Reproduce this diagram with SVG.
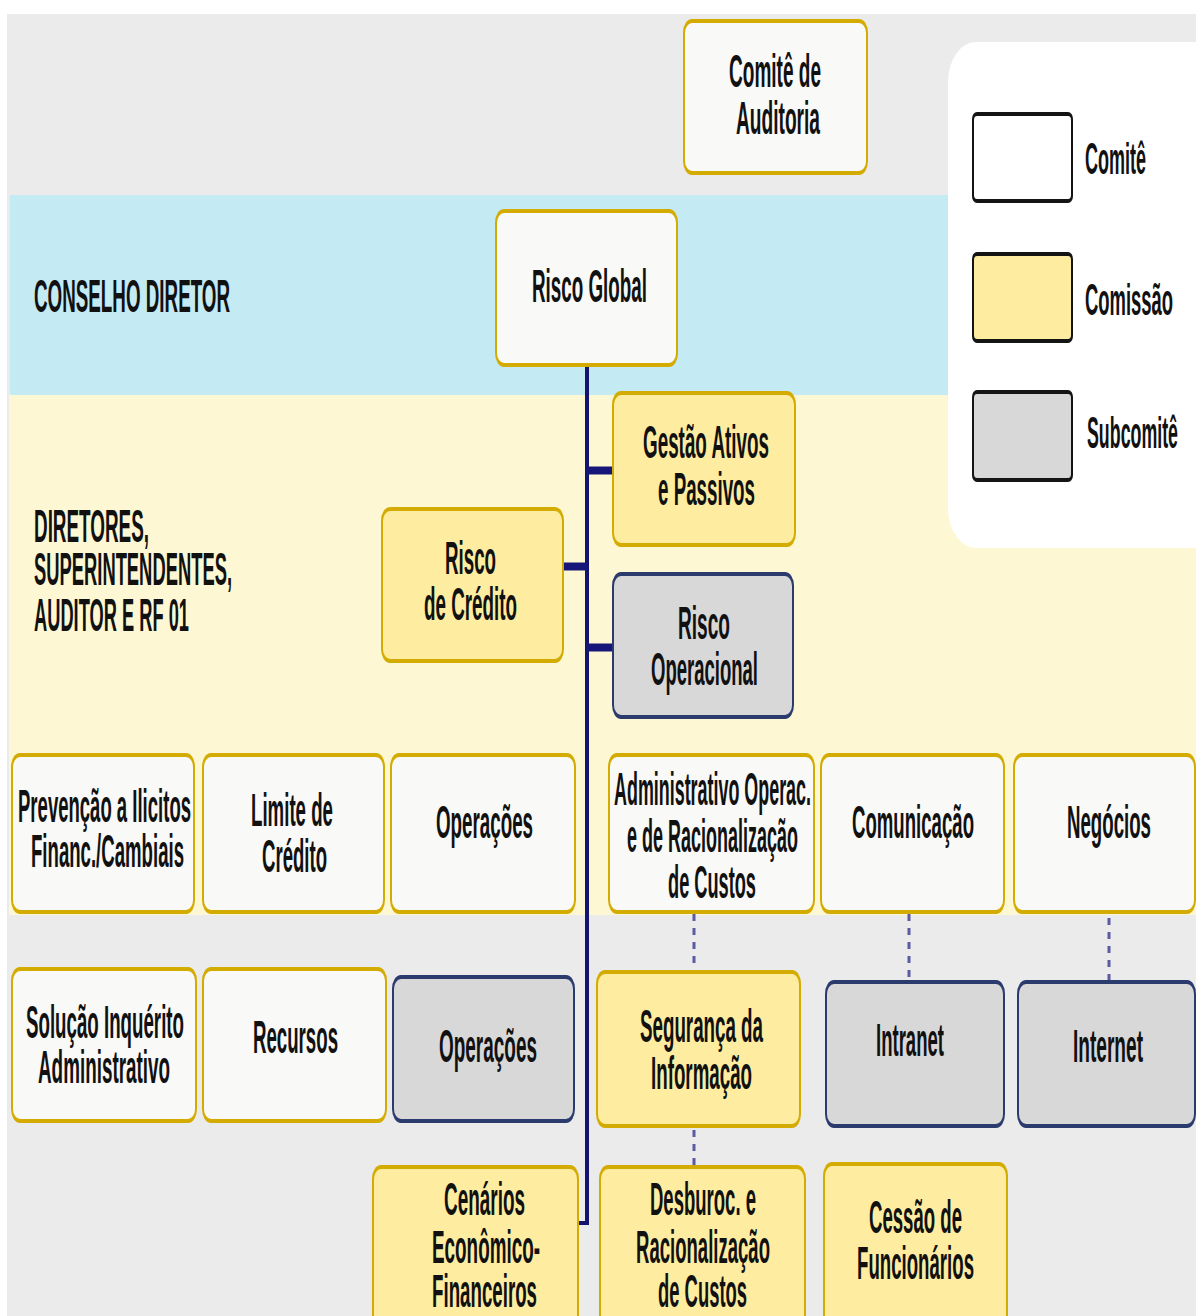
<svg xmlns="http://www.w3.org/2000/svg" width="1196" height="1316" viewBox="0 0 1196 1316">
  <style>
    .bd-gold { fill: #d4ab00; }
    .bd-navy { fill: #2c3b6e; }
    .bd-black { fill: #141414; }
    .fl-white { fill: #f9f9f7; }
    .fl-yellow { fill: #feeda0; }
    .fl-grey { fill: #d9d8d9; }
    text { font-family: "Liberation Sans", Arial, sans-serif; font-size: 46px; font-weight: bold; fill: #111; }
    .node text { text-anchor: middle; }
    .legend text { font-size: 44px; }
    .trunk { fill: none; stroke: #14146e; stroke-width: 4; }
    .branch { stroke: #16167a; stroke-width: 8; }
    .dotted { stroke: #5b5ba3; stroke-width: 3; stroke-dasharray: 7 7; }
  </style>

  <!-- background bands -->
  <rect x="0" y="0" width="1196" height="1316" fill="#ffffff"/>
  <rect x="7" y="14" width="1189" height="1302" fill="#ebebeb"/>
  <rect x="10" y="195" width="938" height="200" fill="#c4eaf4"/>
  <rect x="9" y="395" width="1187" height="520" fill="#fdf8d3"/>

  <!-- legend panel; all labels use a condensed face: matrix(0.42 0 0 1 x 0) -->
  <g id="legend" class="legend">
    <rect x="948" y="42" width="280" height="506" rx="28" ry="40" fill="#ffffff"/>
    <rect class="bd-black" x="972" y="112" width="101" height="91" rx="5" ry="7"/>
    <rect x="974" y="116" width="97" height="83" rx="3" ry="4" fill="#ffffff"/>
    <text transform="matrix(0.42 0 0 1 1085 0)" y="174" textLength="145.2" lengthAdjust="spacingAndGlyphs">Comitê</text>
    <rect class="bd-black" x="972" y="252" width="101" height="91" rx="5" ry="7"/>
    <rect class="fl-yellow" x="974" y="256" width="97" height="83" rx="3" ry="4"/>
    <text transform="matrix(0.42 0 0 1 1085 0)" y="315" textLength="209.5" lengthAdjust="spacingAndGlyphs">Comissão</text>
    <rect class="bd-black" x="972" y="390" width="101" height="92" rx="5" ry="7"/>
    <rect class="fl-grey" x="974" y="394" width="97" height="84" rx="3" ry="4"/>
    <text transform="matrix(0.42 0 0 1 1087 0)" y="448" textLength="216.7" lengthAdjust="spacingAndGlyphs">Subcomitê</text>
  </g>

  <!-- level labels -->
  <g id="level-labels">
    <text transform="matrix(0.42 0 0 1 34 0)" y="312" textLength="466.7" lengthAdjust="spacingAndGlyphs">CONSELHO DIRETOR</text>
    <text transform="matrix(0.42 0 0 1 34 0)" y="542" textLength="273.8" lengthAdjust="spacingAndGlyphs">DIRETORES,</text>
    <text transform="matrix(0.42 0 0 1 34 0)" y="585" textLength="471.4" lengthAdjust="spacingAndGlyphs">SUPERINTENDENTES,</text>
    <text transform="matrix(0.42 0 0 1 34 0)" y="631" textLength="369" lengthAdjust="spacingAndGlyphs">AUDITOR E RF 01</text>
  </g>

  <!-- connectors -->
  <g id="connectors">
    <path class="trunk" d="M587,365 V1223 H578"/>
    <line class="branch" x1="587" y1="470.5" x2="613" y2="470.5"/>
    <line class="branch" x1="564" y1="566.5" x2="587" y2="566.5"/>
    <line class="branch" x1="587" y1="647.5" x2="613" y2="647.5"/>
    <line class="dotted" x1="694" y1="914" x2="694" y2="970"/>
    <line class="dotted" x1="694" y1="1130" x2="694" y2="1165"/>
    <line class="dotted" x1="909" y1="914" x2="909" y2="980"/>
    <line class="dotted" x1="1109" y1="918" x2="1109" y2="980"/>
  </g>

  <!-- nodes -->
  <g id="comite-auditoria" class="node">
    <rect class="bd-gold" x="683" y="19" width="185" height="156" rx="9" ry="14"/>
    <rect class="fl-white" x="685" y="23" width="181" height="148" rx="7" ry="10"/>
    <text transform="matrix(0.42 0 0 1 775 0)" y="87" textLength="219" lengthAdjust="spacingAndGlyphs">Comitê de</text>
    <text transform="matrix(0.42 0 0 1 778 0)" y="134" textLength="200" lengthAdjust="spacingAndGlyphs">Auditoria</text>
  </g>

  <g id="risco-global" class="node">
    <rect class="bd-gold" x="495" y="209" width="183" height="158" rx="9" ry="14"/>
    <rect class="fl-white" x="497" y="213" width="179" height="150" rx="7" ry="10"/>
    <text transform="matrix(0.42 0 0 1 589.5 0)" y="302" textLength="273.8" lengthAdjust="spacingAndGlyphs">Risco Global</text>
  </g>

  <g id="gestao-ativos-passivos" class="node">
    <rect class="bd-gold" x="612" y="391" width="184" height="156" rx="9" ry="14"/>
    <rect class="fl-yellow" x="614" y="395" width="180" height="148" rx="7" ry="10"/>
    <text transform="matrix(0.42 0 0 1 706 0)" y="458" textLength="300" lengthAdjust="spacingAndGlyphs">Gestão Ativos</text>
    <text transform="matrix(0.42 0 0 1 706.5 0)" y="505" textLength="231" lengthAdjust="spacingAndGlyphs">e Passivos</text>
  </g>

  <g id="risco-credito" class="node">
    <rect class="bd-gold" x="381" y="507" width="183" height="156" rx="9" ry="14"/>
    <rect class="fl-yellow" x="383" y="511" width="179" height="148" rx="7" ry="10"/>
    <text transform="matrix(0.42 0 0 1 470.5 0)" y="574" textLength="121.4" lengthAdjust="spacingAndGlyphs">Risco</text>
    <text transform="matrix(0.42 0 0 1 470.5 0)" y="620" textLength="221.4" lengthAdjust="spacingAndGlyphs">de Crédito</text>
  </g>

  <g id="risco-operacional" class="node">
    <rect class="bd-navy" x="612" y="572" width="182" height="147" rx="9" ry="14"/>
    <rect class="fl-grey" x="614" y="576" width="178" height="139" rx="7" ry="10"/>
    <text transform="matrix(0.42 0 0 1 704 0)" y="639" textLength="123.8" lengthAdjust="spacingAndGlyphs">Risco</text>
    <text transform="matrix(0.42 0 0 1 704.5 0)" y="685" textLength="254.8" lengthAdjust="spacingAndGlyphs">Operacional</text>
  </g>

  <g id="prevencao-ilicitos" class="node">
    <rect class="bd-gold" x="11" y="753" width="184" height="161" rx="9" ry="14"/>
    <rect class="fl-white" x="13" y="757" width="180" height="153" rx="7" ry="10"/>
    <text transform="matrix(0.42 0 0 1 104.5 0)" y="822" textLength="411.9" lengthAdjust="spacingAndGlyphs">Prevenção a Ilicitos</text>
    <text transform="matrix(0.42 0 0 1 107.5 0)" y="867" textLength="364.3" lengthAdjust="spacingAndGlyphs">Financ./Cambiais</text>
  </g>

  <g id="limite-credito" class="node">
    <rect class="bd-gold" x="202" y="753" width="183" height="161" rx="9" ry="14"/>
    <rect class="fl-white" x="204" y="757" width="179" height="153" rx="7" ry="10"/>
    <text transform="matrix(0.42 0 0 1 292 0)" y="826" textLength="195.2" lengthAdjust="spacingAndGlyphs">Limite de</text>
    <text transform="matrix(0.42 0 0 1 294.5 0)" y="872" textLength="154.8" lengthAdjust="spacingAndGlyphs">Crédito</text>
  </g>

  <g id="operacoes-comite" class="node">
    <rect class="bd-gold" x="390" y="753" width="186" height="161" rx="9" ry="14"/>
    <rect class="fl-white" x="392" y="757" width="182" height="153" rx="7" ry="10"/>
    <text transform="matrix(0.42 0 0 1 484.5 0)" y="838" textLength="231" lengthAdjust="spacingAndGlyphs">Operações</text>
  </g>

  <g id="administrativo-operac" class="node">
    <rect class="bd-gold" x="608" y="753" width="207" height="161" rx="9" ry="14"/>
    <rect class="fl-white" x="610" y="757" width="203" height="153" rx="7" ry="10"/>
    <text transform="matrix(0.42 0 0 1 712.5 0)" y="805" textLength="469" lengthAdjust="spacingAndGlyphs">Administrativo Operac.</text>
    <text transform="matrix(0.42 0 0 1 712.5 0)" y="852" textLength="407.1" lengthAdjust="spacingAndGlyphs">e de Racionalização</text>
    <text transform="matrix(0.42 0 0 1 712 0)" y="898" textLength="209.5" lengthAdjust="spacingAndGlyphs">de Custos</text>
  </g>

  <g id="comunicacao" class="node">
    <rect class="bd-gold" x="820" y="753" width="185" height="161" rx="9" ry="14"/>
    <rect class="fl-white" x="822" y="757" width="181" height="153" rx="7" ry="10"/>
    <text transform="matrix(0.42 0 0 1 913 0)" y="838" textLength="290.5" lengthAdjust="spacingAndGlyphs">Comunicação</text>
  </g>

  <g id="negocios" class="node">
    <rect class="bd-gold" x="1013" y="753" width="183" height="161" rx="9" ry="14"/>
    <rect class="fl-white" x="1015" y="757" width="179" height="153" rx="7" ry="10"/>
    <text transform="matrix(0.42 0 0 1 1109 0)" y="838" textLength="200" lengthAdjust="spacingAndGlyphs">Negócios</text>
  </g>

  <g id="solucao-inquerito" class="node">
    <rect class="bd-gold" x="11" y="967" width="186" height="156" rx="9" ry="14"/>
    <rect class="fl-white" x="13" y="971" width="182" height="148" rx="7" ry="10"/>
    <text transform="matrix(0.42 0 0 1 105 0)" y="1038" textLength="376.2" lengthAdjust="spacingAndGlyphs">Solução Inquérito</text>
    <text transform="matrix(0.42 0 0 1 104 0)" y="1083" textLength="314.3" lengthAdjust="spacingAndGlyphs">Administrativo</text>
  </g>

  <g id="recursos" class="node">
    <rect class="bd-gold" x="202" y="967" width="185" height="156" rx="9" ry="14"/>
    <rect class="fl-white" x="204" y="971" width="181" height="148" rx="7" ry="10"/>
    <text transform="matrix(0.42 0 0 1 295.5 0)" y="1053" textLength="202.4" lengthAdjust="spacingAndGlyphs">Recursos</text>
  </g>

  <g id="operacoes-sub" class="node">
    <rect class="bd-navy" x="392" y="975" width="183" height="148" rx="9" ry="14"/>
    <rect class="fl-grey" x="394" y="979" width="179" height="140" rx="7" ry="10"/>
    <text transform="matrix(0.42 0 0 1 488 0)" y="1062" textLength="233.3" lengthAdjust="spacingAndGlyphs">Operações</text>
  </g>

  <g id="seguranca-informacao" class="node">
    <rect class="bd-gold" x="596" y="970" width="205" height="158" rx="9" ry="14"/>
    <rect class="fl-yellow" x="598" y="974" width="201" height="150" rx="7" ry="10"/>
    <text transform="matrix(0.42 0 0 1 701.5 0)" y="1042" textLength="292.9" lengthAdjust="spacingAndGlyphs">Segurança da</text>
    <text transform="matrix(0.42 0 0 1 701.5 0)" y="1089" textLength="240.5" lengthAdjust="spacingAndGlyphs">Informação</text>
  </g>

  <g id="intranet" class="node">
    <rect class="bd-navy" x="825" y="980" width="180" height="148" rx="9" ry="14"/>
    <rect class="fl-grey" x="827" y="984" width="176" height="140" rx="7" ry="10"/>
    <text transform="matrix(0.42 0 0 1 910 0)" y="1056" textLength="161.9" lengthAdjust="spacingAndGlyphs">Intranet</text>
  </g>

  <g id="internet" class="node">
    <rect class="bd-navy" x="1017" y="980" width="179" height="148" rx="9" ry="14"/>
    <rect class="fl-grey" x="1019" y="984" width="175" height="140" rx="7" ry="10"/>
    <text transform="matrix(0.42 0 0 1 1108 0)" y="1062" textLength="166.7" lengthAdjust="spacingAndGlyphs">Internet</text>
  </g>

  <g id="cenarios" class="node">
    <rect class="bd-gold" x="372" y="1165" width="207" height="170" rx="9" ry="14"/>
    <rect class="fl-yellow" x="374" y="1169" width="203" height="162" rx="7" ry="10"/>
    <text transform="matrix(0.42 0 0 1 484.5 0)" y="1215" textLength="192.9" lengthAdjust="spacingAndGlyphs">Cenários</text>
    <text transform="matrix(0.42 0 0 1 486 0)" y="1263" textLength="257.1" lengthAdjust="spacingAndGlyphs">Econômico-</text>
    <text transform="matrix(0.42 0 0 1 484.5 0)" y="1307" textLength="250" lengthAdjust="spacingAndGlyphs">Financeiros</text>
  </g>

  <g id="desburocratizacao" class="node">
    <rect class="bd-gold" x="599" y="1165" width="207" height="170" rx="9" ry="14"/>
    <rect class="fl-yellow" x="601" y="1169" width="203" height="162" rx="7" ry="10"/>
    <text transform="matrix(0.42 0 0 1 703 0)" y="1215" textLength="252.4" lengthAdjust="spacingAndGlyphs">Desburoc. e</text>
    <text transform="matrix(0.42 0 0 1 703 0)" y="1263" textLength="319" lengthAdjust="spacingAndGlyphs">Racionalização</text>
    <text transform="matrix(0.42 0 0 1 702.5 0)" y="1307" textLength="211.9" lengthAdjust="spacingAndGlyphs">de Custos</text>
  </g>

  <g id="cessao-funcionarios" class="node">
    <rect class="bd-gold" x="823" y="1162" width="185" height="173" rx="9" ry="14"/>
    <rect class="fl-yellow" x="825" y="1166" width="181" height="165" rx="7" ry="10"/>
    <text transform="matrix(0.42 0 0 1 915.5 0)" y="1233" textLength="221.4" lengthAdjust="spacingAndGlyphs">Cessão de</text>
    <text transform="matrix(0.42 0 0 1 915.5 0)" y="1279" textLength="278.6" lengthAdjust="spacingAndGlyphs">Funcionários</text>
  </g>
</svg>
